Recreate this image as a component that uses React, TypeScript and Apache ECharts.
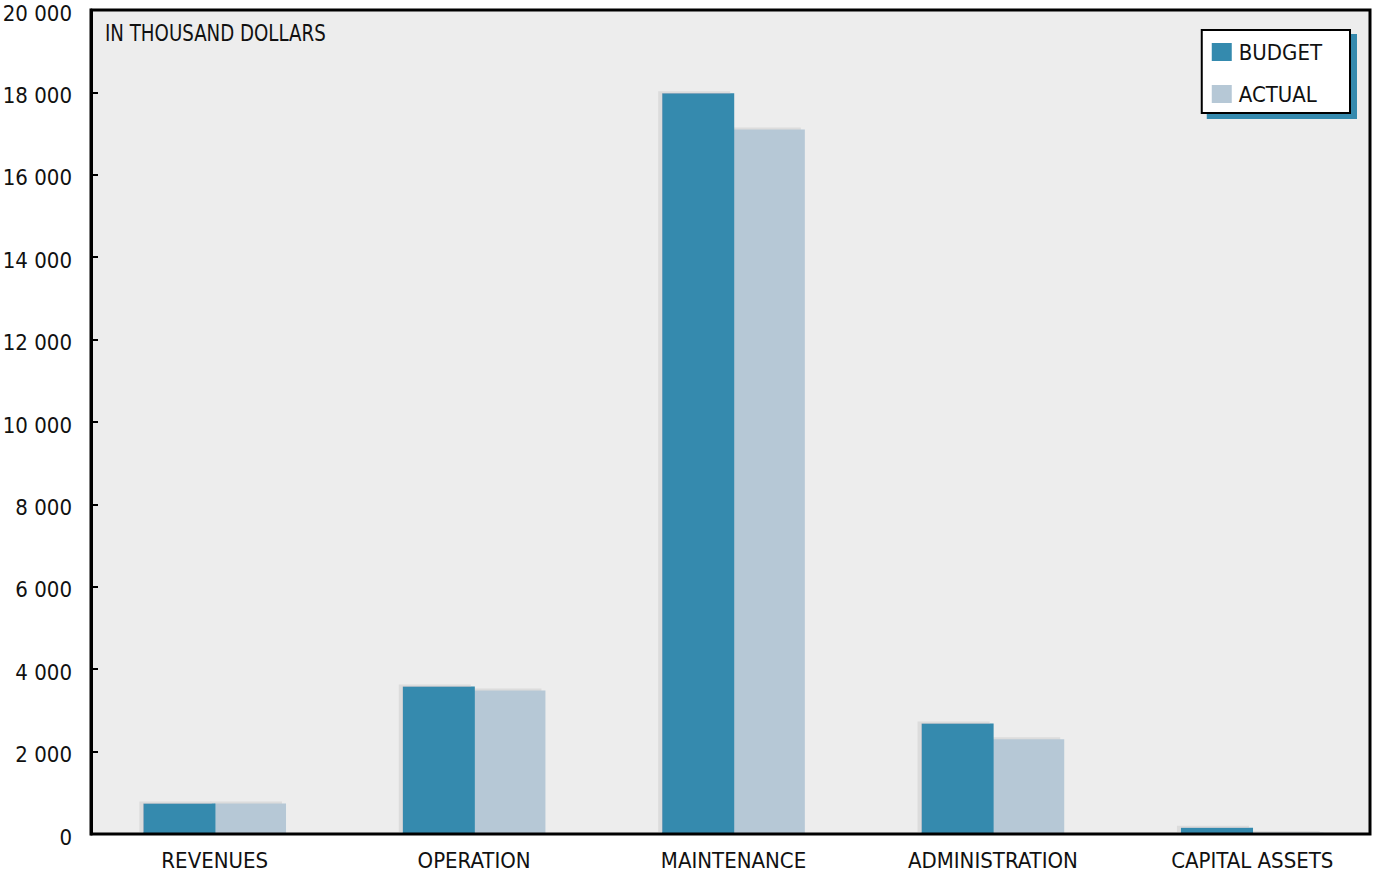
import React, { useEffect, useRef } from "react";
import * as echarts from "echarts";

const categories = ["REVENUES", "OPERATION", "MAINTENANCE", "ADMINISTRATION", "CAPITAL ASSETS"];
const budget = [740, 3580, 17980, 2680, 150];
const actual = [740, 3480, 17100, 2300, 30];
const yTicks = [0, 2000, 4000, 6000, 8000, 10000, 12000, 14000, 16000, 18000, 20000];

const FONT = "'DejaVu Sans Condensed', 'DejaVu Sans', sans-serif";

export default function App() {
  const ref = useRef<HTMLDivElement>(null);
  useEffect(() => {
    if (!ref.current) return;
    const chart = echarts.init(ref.current, undefined, { renderer: "svg" });
    const fmt = (v: number) => String(v).replace(/\B(?=(\d{3})+(?!\d))/g, " ");
    chart.setOption({
      animation: false,
      backgroundColor: "#ffffff",
      textStyle: { fontFamily: FONT },
      grid: {
        left: 85,
        width: 1297,
        top: 10,
        height: 824,
        show: false,
        outerBoundsMode: "none",
        containLabel: false,
      },
      legend: {
        right: 23,
        top: 30,
        orient: "vertical",
        itemWidth: 20,
        itemHeight: 18,
        itemGap: 20,
        padding: [11, 28, 8, 10],
        backgroundColor: "#ffffff",
        borderColor: "#000",
        borderWidth: 2,
        borderRadius: 0,
        shadowColor: "#348aae",
        shadowOffsetX: 6,
        shadowOffsetY: 5,
        shadowBlur: 0,
        icon: "rect",
        textStyle: { fontFamily: FONT, fontSize: 22, lineHeight: 20, color: "#111", padding: [0, 0, 0, 2] },
        data: ["BUDGET", "ACTUAL"],
      },
      graphic: [
        {
          type: "rect",
          z: -10,
          silent: true,
          shape: { x: 91, y: 10, width: 1279, height: 824 },
          style: { fill: "#ededed", stroke: "none" },
        },
        {
          type: "rect",
          z: 100,
          silent: true,
          shape: { x: 91, y: 10, width: 1279, height: 824 },
          style: { fill: "none", stroke: "#000", lineWidth: 3 },
        },
        {
          type: "text",
          x: 105,
          y: 22,
          scaleX: 0.88,
          style: { text: "IN THOUSAND DOLLARS", font: `23px ${FONT}`, fill: "#111" },
        },
      ],
      xAxis: {
        type: "category",
        data: categories,
        axisLine: { show: false },
        axisTick: { show: false },
        axisLabel: { fontFamily: FONT, fontSize: 22, color: "#111", margin: 15 },
      },
      yAxis: {
        type: "value",
        min: 0,
        max: 20000,
        interval: 2000,
        offset: -6,
        splitLine: { show: false },
        axisLine: { show: true, lineStyle: { color: "#000", width: 3 } },
        axisTick: { show: true, inside: true, length: 7, lineStyle: { color: "#000", width: 2 } },
        axisLabel: {
          fontFamily: FONT,
          fontSize: 22,
          color: "#111",
          margin: 19,
          verticalAlign: "top",
          lineHeight: 6,
          formatter: (v: number) => (yTicks.includes(v) ? fmt(v) : ""),
        },
      },
      series: [
        {
          name: "BUDGET",
          type: "bar",
          z: 4,
          data: budget,
          barGap: "-2%",
          barCategoryGap: "45%",
          itemStyle: {
            color: "#348aae",
            shadowColor: "#dcdcdc",
            shadowOffsetX: -4,
            shadowOffsetY: -2,
            shadowBlur: 0,
          },
        },
        {
          name: "ACTUAL",
          type: "bar",
          z: 2,
          data: actual,
          barGap: "-2%",
          barCategoryGap: "45%",
          itemStyle: {
            color: "#b6c8d6",
            shadowColor: "#dcdcdc",
            shadowOffsetX: -4,
            shadowOffsetY: -2,
            shadowBlur: 0,
          },
        },
      ],
    });
    return () => chart.dispose();
  }, []);
  return (
    <div
      ref={ref}
      style={{ position: "fixed", left: 0, top: 0, width: 1373, height: 874 }}
    />
  );
}
